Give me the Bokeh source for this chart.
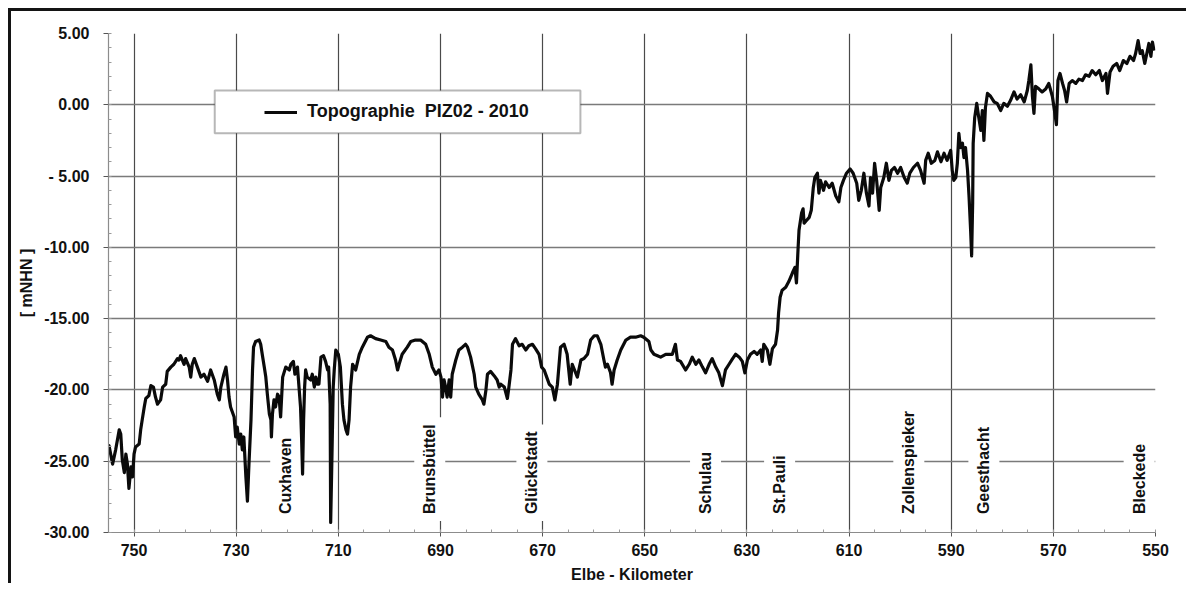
from math import pi
from bokeh.plotting import figure
from bokeh.models import (Range1d, FixedTicker, ColumnDataSource, Legend,
                          LegendItem, BoxAnnotation)
from bokeh.core.properties import value
from bokeh.embed import file_html
from bokeh.resources import INLINE

# ---------------- data ----------------
series_name = "Topographie  PIZ02 - 2010"

km = [755.2, 754.9, 754.2, 753.6, 752.9, 752.6, 752.3, 751.9, 751.6, 751.3,
      751.0, 750.6, 750.3, 750.0, 749.7, 749.0, 748.7, 748.4, 748.0, 747.7,
      747.1, 746.7, 746.2, 745.8, 745.4, 744.8, 744.4, 743.8, 743.5, 742.8,
      742.2, 741.5, 741.2, 740.9, 740.2, 739.9, 739.2, 738.9, 738.6, 738.2,
      737.6, 736.9, 736.3, 735.6, 735.0, 734.3, 733.7, 733.3, 733.0, 732.4,
      732.0, 731.7, 731.4, 731.1, 730.4, 730.1, 729.8, 729.4, 729.1, 728.8,
      728.5, 728.1, 727.8, 727.5, 727.1, 726.8, 726.6, 726.2, 725.5, 725.2,
      724.9, 724.5, 724.2, 723.9, 723.5, 723.2, 723.1, 722.9, 722.6, 722.3,
      721.9, 721.6, 721.3, 720.9, 720.3, 719.6, 719.3, 718.8, 718.5, 718.0,
      717.7, 717.4, 717.2, 717.0, 716.8, 716.6, 716.4, 716.1, 715.4, 715.1,
      714.7, 714.4, 714.1, 713.8, 713.4, 712.9, 712.5, 712.1, 711.9, 711.6,
      711.5, 711.3, 711.0, 710.8, 710.5, 710.0, 709.6, 709.2, 708.9, 708.5,
      708.2, 707.9, 707.6, 707.2, 706.6, 705.9, 705.3, 704.3, 703.7, 702.7,
      701.7, 700.7, 700.1, 699.4, 698.8, 698.4, 698.1, 697.5, 696.5, 695.8,
      694.9, 693.9, 692.9, 692.2, 691.6, 690.9, 690.3, 689.9, 689.6, 689.3,
      689.0, 688.7, 688.3, 688.0, 687.7, 687.0, 686.4, 685.7, 685.1, 684.7,
      684.1, 683.4, 683.1, 682.5, 681.8, 681.5, 681.1, 680.8, 680.2, 679.5,
      678.9, 678.5, 678.2, 677.5, 676.9, 676.6, 676.2, 675.9, 675.3, 674.6,
      674.0, 673.3, 672.7, 672.0, 671.4, 670.7, 670.2, 669.7, 669.2, 668.7,
      668.1, 667.6, 667.1, 666.5, 665.8, 665.2, 664.6, 664.2, 663.2, 662.5,
      661.9, 661.2, 660.6, 659.9, 659.3, 658.6, 658.0, 657.7, 657.3, 656.7,
      656.4, 656.0, 655.4, 654.7, 653.7, 652.8, 651.8, 650.8, 650.2, 649.2,
      648.8, 648.2, 647.5, 646.9, 645.9, 645.3, 644.6, 644.0, 643.6, 643.0,
      642.0, 641.3, 640.7, 640.0, 639.4, 638.7, 638.1, 637.4, 636.8, 636.1,
      635.5, 634.8, 634.2, 633.5, 632.8, 632.2, 631.5, 630.9, 630.4, 629.9,
      629.3, 628.6, 628.0, 627.3, 627.0, 626.7, 626.0, 625.5, 625.0, 624.4,
      624.0, 623.8, 623.5, 623.1, 622.4, 621.8, 621.1, 620.6, 620.3, 620.0,
      619.8, 619.3, 619.0, 618.8, 618.3, 617.8, 617.4, 617.0, 616.7, 616.2,
      615.9, 615.6, 615.0, 614.6, 613.9, 613.3, 612.6, 612.0, 611.6, 611.1,
      610.5, 609.8, 609.2, 608.5, 608.1, 607.6, 607.1, 606.6, 606.1, 605.8,
      605.4, 605.0, 604.6, 604.1, 603.8, 603.2, 602.7, 602.2, 601.7, 601.1,
      600.5, 599.9, 599.2, 598.6, 598.1, 597.4, 596.6, 596.0, 595.3, 595.0,
      594.5, 593.9, 593.2, 592.7, 592.0, 591.4, 590.8, 590.1, 589.8, 589.5,
      589.1, 588.8, 588.5, 588.2, 587.8, 587.5, 587.2, 586.8, 586.5, 586.2,
      586.0, 585.8, 585.7, 585.4, 585.0, 584.6, 584.2, 583.9, 583.6, 583.3,
      582.9, 582.3, 581.6, 581.0, 580.3, 579.7, 579.0, 578.4, 577.7, 577.1,
      576.4, 575.7, 575.1, 574.8, 574.4, 574.1, 573.8, 573.5, 572.8, 572.2,
      571.5, 570.9, 570.2, 569.7, 569.4, 569.1, 568.7, 568.2, 567.8, 567.4,
      566.9, 566.3, 565.6, 565.0, 564.3, 563.7, 563.0, 562.4, 561.7, 561.0,
      560.4, 559.7, 559.4, 558.9, 558.3, 557.6, 557.0, 556.3, 555.6, 555.0,
      554.3, 553.9, 553.4, 553.0, 552.6, 552.1, 551.7, 551.3, 550.9, 550.6,
      550.3]

elev = [-24.5, -23.9, -25.2, -24.2, -22.8, -23.1, -24.9, -25.8, -24.5, -25.2,
        -26.9, -25.4, -26.1, -24.5, -24.0, -23.8, -22.8, -22.1, -21.2, -20.6,
        -20.4, -19.7, -19.8, -20.5, -21.0, -20.7, -19.8, -19.6, -18.7, -18.4,
        -18.2, -17.8, -17.9, -17.6, -18.2, -17.8, -18.4, -19.1, -18.2, -17.8,
        -18.4, -19.1, -18.9, -19.4, -18.6, -19.3, -20.3, -20.7, -19.8, -18.9,
        -18.4, -19.3, -20.5, -21.2, -21.9, -23.3, -22.6, -23.8, -23.1, -24.2,
        -23.3, -26.1, -27.8, -25.2, -22.1, -18.6, -17.0, -16.6, -16.5, -16.8,
        -17.5, -18.4, -19.1, -20.3, -21.7, -22.1, -23.3, -21.7, -20.7, -21.2,
        -20.3, -20.5, -21.9, -19.1, -18.4, -18.6, -18.2, -18.0, -18.9, -18.4,
        -19.8, -21.2, -23.3, -25.9, -22.1, -19.8, -18.6, -19.1, -19.3, -18.9,
        -19.8, -19.1, -19.6, -19.6, -17.7, -17.6, -18.0, -18.6, -18.4, -21.0,
        -29.3, -25.6, -19.8, -18.6, -17.2, -17.5, -18.4, -21.0, -22.1, -22.8,
        -23.1, -22.1, -19.8, -18.2, -18.6, -17.5, -17.0, -16.3, -16.2, -16.4,
        -16.5, -16.6, -17.0, -17.2, -17.9, -18.6, -18.2, -17.5, -17.0, -16.6,
        -16.5, -16.5, -16.8, -17.5, -18.4, -18.9, -18.6, -19.1, -20.5, -19.3,
        -19.8, -20.5, -19.3, -20.5, -18.9, -17.9, -17.2, -17.0, -16.8, -17.0,
        -17.7, -18.9, -19.8, -20.3, -20.7, -21.0, -20.0, -18.9, -18.7, -19.0,
        -19.3, -19.8, -19.6, -19.8, -20.6, -19.8, -18.6, -16.8, -16.4, -16.9,
        -16.8, -17.2, -16.9, -16.8, -17.1, -17.5, -18.4, -18.6, -19.1, -19.6,
        -19.8, -20.7, -19.6, -17.0, -16.8, -17.5, -19.6, -18.2, -19.1, -17.9,
        -17.8, -17.5, -16.5, -16.2, -16.2, -16.8, -17.9, -18.4, -18.2, -18.8,
        -19.6, -18.6, -17.9, -17.2, -16.5, -16.3, -16.3, -16.2, -16.3, -16.6,
        -17.2, -17.5, -17.6, -17.7, -17.5, -17.5, -17.5, -16.8, -17.9, -18.0,
        -18.6, -18.2, -17.7, -18.2, -17.9, -18.4, -18.8, -18.2, -17.8, -18.4,
        -18.8, -19.7, -18.6, -18.2, -17.8, -17.5, -17.7, -18.0, -18.8, -17.9,
        -17.5, -17.3, -17.5, -17.2, -18.0, -16.8, -17.2, -18.2, -17.1, -16.8,
        -15.8, -14.6, -13.5, -13.0, -12.8, -12.4, -11.8, -11.4, -12.5, -10.2,
        -8.8, -7.6, -7.3, -8.3, -8.1, -7.9, -7.4, -5.8, -5.1, -4.8,
        -6.2, -5.3, -6.0, -5.4, -5.8, -5.5, -6.4, -6.8, -5.8, -5.3,
        -4.8, -4.5, -4.8, -5.5, -6.7, -6.0, -4.8, -6.2, -7.1, -5.1,
        -6.2, -4.1, -5.3, -7.4, -5.8, -5.1, -4.1, -5.3, -4.6, -4.4,
        -4.8, -4.4, -5.1, -5.5, -4.8, -4.4, -4.1, -4.6, -5.5, -3.9,
        -3.4, -4.1, -3.9, -3.3, -4.0, -3.4, -3.9, -3.2, -4.6, -5.3,
        -5.1, -4.1, -2.0, -3.0, -2.7, -3.7, -3.0, -4.6, -6.5, -8.8,
        -10.6, -6.9, -2.7, -0.9, 0.1, -0.9, -1.8, -0.4, -2.5, -0.2,
        0.8, 0.6, 0.2, 0.1, -0.4, 0.1, -0.1, 0.3, 0.9, 0.4,
        0.7, 0.2, 1.0, 1.7, 2.8, 0.6, -0.6, 1.3, 1.1, 0.9,
        1.1, 1.5, 0.6, -0.6, -1.4, 1.7, 2.2, 1.5, 1.0, 0.2,
        1.5, 1.7, 1.5, 1.8, 1.7, 2.1, 2.0, 2.4, 2.1, 2.4,
        1.7, 2.2, 0.8, 2.3, 2.7, 2.9, 2.4, 3.1, 2.9, 3.4,
        3.1, 3.6, 4.5, 3.6, 3.8, 2.9, 3.6, 4.3, 3.4, 4.4,
        3.8]

places = ["Cuxhaven", "Brunsbüttel", "Glückstadt", "Schulau", "St.Pauli",
          "Zollenspieker", "Geesthacht", "Bleckede"]
place_km = [720.3, 692.1, 672.1, 638.1, 623.6, 598.3, 583.6, 553.2]

x_ticks = [750, 730, 710, 690, 670, 650, 630, 610, 590, 570, 550]
x_tick_labels = ["750", "730", "710", "690", "670", "650", "630", "610",
                 "590", "570", "550"]
y_ticks = [5, 0, -5, -10, -15, -20, -25, -30]
y_tick_labels = ["5.00", "0.00", "- 5.00", "-10.00", "-15.00", "-20.00",
                 "-25.00", "-30.00"]
x_label = "Elbe - Kilometer"
y_label = "[ mNHN ]"

# ---------------- figure ----------------
FONT = "Liberation Sans"

p = figure(width=1178, height=575, output_backend="svg", toolbar_location=None,
           x_range=Range1d(755, 550), y_range=Range1d(-30, 5),
           min_border_left=97, min_border_right=34, min_border_top=22,
           min_border_bottom=54)
p.styles = {"margin-top": "8px", "margin-left": "8px",
            "border-top": "3px solid #141414", "border-left": "3px solid #141414"}
p.outline_line_color = None
p.background_fill_color = "white"
p.border_fill_color = "white"

# grids
p.xgrid.ticker = FixedTicker(ticks=x_ticks)
p.xgrid.grid_line_color = "#4a4a4a"
p.xgrid.grid_line_width = 1.2
p.ygrid.ticker = FixedTicker(ticks=y_ticks[1:])
p.ygrid.grid_line_color = "#7a7a7a"
p.ygrid.grid_line_width = 1.5

# axes
p.xaxis.ticker = FixedTicker(ticks=x_ticks, minor_ticks=list(range(755, 549, -5)))
p.xaxis.major_label_overrides = dict(zip(x_ticks, x_tick_labels))
p.yaxis.ticker = FixedTicker(ticks=y_ticks, minor_ticks=list(range(-30, 6)))
p.yaxis.major_label_overrides = dict(zip(y_ticks, y_tick_labels))
p.xaxis.axis_label = x_label
p.yaxis.axis_label = y_label

for ax in (p.xaxis[0], p.yaxis[0]):
    ax.axis_line_color = "#8c8c8c"
    ax.axis_line_width = 1.2
    ax.major_tick_line_color = "#555555"
    ax.minor_tick_line_color = "#9a9a9a"
    ax.major_tick_in = 0
    ax.minor_tick_in = 3
    ax.minor_tick_out = 0
    ax.major_label_text_font = FONT
    ax.major_label_text_font_style = "bold"
    ax.major_label_text_font_size = "16px"
    ax.major_label_text_color = "#111111"
    ax.axis_label_text_font = FONT
    ax.axis_label_text_font_style = "bold"
    ax.axis_label_text_font_size = "16px"
    ax.axis_label_text_color = "#111111"

p.yaxis.major_tick_out = 5
p.yaxis.major_label_standoff = 14
p.yaxis.axis_label_standoff = 6
p.xaxis.major_tick_out = 4
p.xaxis.major_label_standoff = 7
p.xaxis.axis_label_standoff = 7

# place labels (white boxes under the line)
src = ColumnDataSource(dict(km=place_km, name=places))
p.text(x="km", y=-29.2, text="name", source=src, angle=pi / 2,
       text_align="left", text_baseline="middle",
       text_font=value(FONT), text_font_style="bold", text_font_size="16px",
       text_color="#111111", background_fill_color="white", padding=7)

# the profile line
r = p.line(km, elev, line_color="#0a0a0a", line_width=3.2, line_join="round")

# legend frame + legend
box = BoxAnnotation(left=734.2, right=662.6, top=1.0, bottom=-2.0,
                    fill_color="white", fill_alpha=1.0,
                    line_color="#111111", line_width=2)
p.add_layout(box)

legend = Legend(items=[LegendItem(label=series_name, renderers=[r])],
                location=(156, 410), border_line_alpha=0,
                background_fill_alpha=0, padding=0, margin=0,
                glyph_width=33, glyph_height=20, label_height=20,
                label_standoff=10, label_text_font=FONT,
                label_text_font_style="bold", label_text_font_size="18px",
                label_text_color="#111111")
p.add_layout(legend)

open("out.html", "w").write(file_html(p, INLINE))
